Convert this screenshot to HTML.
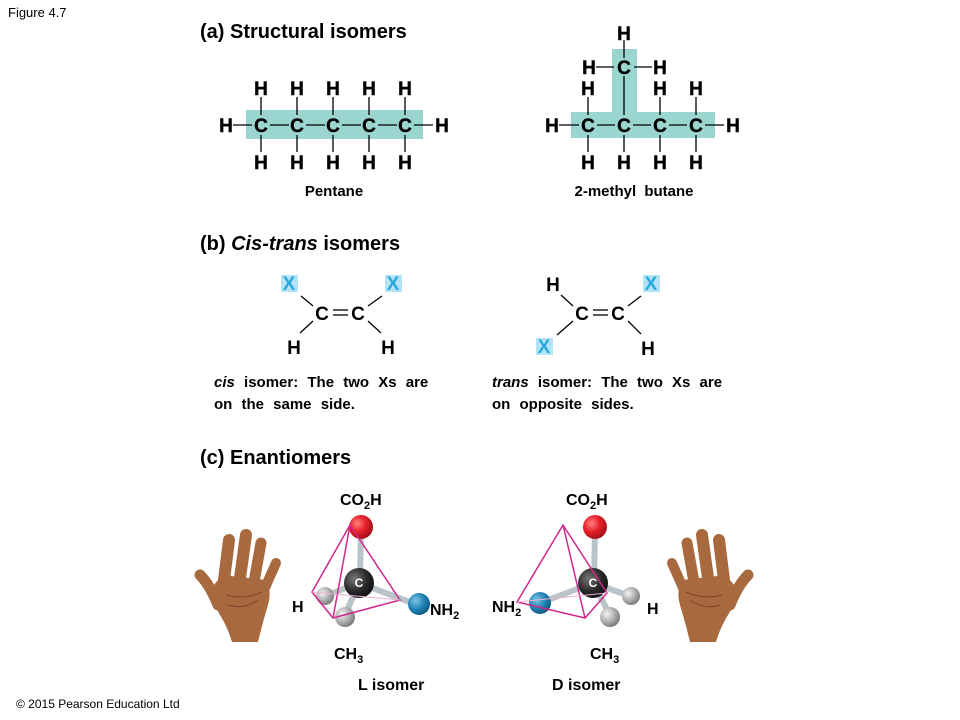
<!DOCTYPE html>
<html><head><style>
html,body{margin:0;padding:0;background:#fff;}
svg{display:block;}
text{font-family:"Liberation Sans",Arial,sans-serif;}
.b{font-weight:bold;}
</style></head><body>
<svg width="960" height="720" viewBox="0 0 960 720" xmlns="http://www.w3.org/2000/svg">
<text x="8" y="17" font-size="13">Figure 4.7</text>
<text x="16" y="708" font-size="12">© 2015 Pearson Education Ltd</text>

<!-- (a) -->
<text x="200" y="38" font-size="20" class="b">(a) Structural isomers</text>
<rect x="246" y="110" width="177" height="29" fill="#9ad5d0"/>
<g stroke="#000" stroke-width="1.3">
<line x1="233" y1="125" x2="252" y2="125"/>
<line x1="270" y1="125" x2="289" y2="125"/>
<line x1="306" y1="125" x2="325" y2="125"/>
<line x1="342" y1="125" x2="361" y2="125"/>
<line x1="378" y1="125" x2="397" y2="125"/>
<line x1="414" y1="125" x2="433" y2="125"/>
<line x1="261" y1="97" x2="261" y2="115"/><line x1="297" y1="97" x2="297" y2="115"/><line x1="333" y1="97" x2="333" y2="115"/><line x1="369" y1="97" x2="369" y2="115"/><line x1="405" y1="97" x2="405" y2="115"/>
<line x1="261" y1="135" x2="261" y2="152"/><line x1="297" y1="135" x2="297" y2="152"/><line x1="333" y1="135" x2="333" y2="152"/><line x1="369" y1="135" x2="369" y2="152"/><line x1="405" y1="135" x2="405" y2="152"/>
</g>
<g font-size="19" class="b" text-anchor="middle" stroke="#000" stroke-width="0.4">
<text x="226" y="132">H</text><text x="442" y="132">H</text>
<text x="261" y="132">C</text><text x="297" y="132">C</text><text x="333" y="132">C</text><text x="369" y="132">C</text><text x="405" y="132">C</text>
<text x="261" y="95">H</text><text x="297" y="95">H</text><text x="333" y="95">H</text><text x="369" y="95">H</text><text x="405" y="95">H</text>
<text x="261" y="169">H</text><text x="297" y="169">H</text><text x="333" y="169">H</text><text x="369" y="169">H</text><text x="405" y="169">H</text>
</g>
<text x="334" y="196" font-size="15" class="b" text-anchor="middle">Pentane</text>

<rect x="571" y="112" width="144" height="26" fill="#9ad5d0"/>
<rect x="612" y="49" width="25" height="65" fill="#9ad5d0"/>
<g stroke="#000" stroke-width="1.3">
<line x1="559" y1="125" x2="579" y2="125"/>
<line x1="597" y1="125" x2="615" y2="125"/>
<line x1="633" y1="125" x2="651" y2="125"/>
<line x1="669" y1="125" x2="687" y2="125"/>
<line x1="705" y1="125" x2="724" y2="125"/>
<line x1="596" y1="67" x2="614" y2="67"/><line x1="634" y1="67" x2="652" y2="67"/>
<line x1="624" y1="40" x2="624" y2="58"/><line x1="624" y1="76" x2="624" y2="115"/>
<line x1="588" y1="97" x2="588" y2="115"/><line x1="660" y1="97" x2="660" y2="115"/><line x1="696" y1="97" x2="696" y2="115"/>
<line x1="588" y1="135" x2="588" y2="152"/><line x1="624" y1="135" x2="624" y2="152"/><line x1="660" y1="135" x2="660" y2="152"/><line x1="696" y1="135" x2="696" y2="152"/>
</g>
<g font-size="19" class="b" text-anchor="middle" stroke="#000" stroke-width="0.4">
<text x="552" y="132">H</text><text x="733" y="132">H</text>
<text x="588" y="132">C</text><text x="624" y="132">C</text><text x="660" y="132">C</text><text x="696" y="132">C</text>
<text x="624" y="74">C</text><text x="589" y="74">H</text><text x="660" y="74">H</text><text x="624" y="40">H</text>
<text x="588" y="95">H</text><text x="660" y="95">H</text><text x="696" y="95">H</text>
<text x="588" y="169">H</text><text x="624" y="169">H</text><text x="660" y="169">H</text><text x="696" y="169">H</text>
</g>
<text x="634" y="196" font-size="15" class="b" text-anchor="middle" word-spacing="4">2-methyl butane</text>

<!-- (b) -->
<text x="200" y="250" font-size="20" class="b">(b) <tspan font-style="italic">Cis-trans</tspan> isomers</text>
<rect x="281" y="275" width="17" height="17" fill="#b3e3f7"/>
<rect x="385" y="275" width="17" height="17" fill="#b3e3f7"/>
<rect x="643" y="275" width="17" height="17" fill="#b3e3f7"/>
<rect x="536" y="338" width="17" height="17" fill="#b3e3f7"/>
<g stroke="#000" stroke-width="1.3">
<line x1="301" y1="296" x2="313" y2="306"/><line x1="382" y1="296" x2="368" y2="306"/>
<line x1="313" y1="321" x2="300" y2="333"/><line x1="368" y1="321" x2="381" y2="333"/>
<line x1="333" y1="310" x2="348" y2="310"/><line x1="333" y1="315" x2="348" y2="315"/>
<line x1="561" y1="295" x2="573" y2="306"/><line x1="641" y1="296" x2="628" y2="306"/>
<line x1="573" y1="321" x2="557" y2="335"/><line x1="628" y1="321" x2="641" y2="334"/>
<line x1="593" y1="310" x2="608" y2="310"/><line x1="593" y1="315" x2="608" y2="315"/>
</g>
<g font-size="19" class="b" text-anchor="middle">
<text x="289" y="290" fill="#29a8e0">X</text><text x="393" y="290" fill="#29a8e0">X</text>
<text x="322" y="320">C</text><text x="358" y="320">C</text>
<text x="294" y="354">H</text><text x="388" y="354">H</text>
<text x="553" y="291">H</text><text x="651" y="290" fill="#29a8e0">X</text>
<text x="582" y="320">C</text><text x="618" y="320">C</text>
<text x="544" y="353" fill="#29a8e0">X</text><text x="648" y="355">H</text>
</g>
<g font-size="15" class="b" word-spacing="5">
<text x="214" y="387"><tspan font-style="italic">cis</tspan> isomer: The two Xs are</text>
<text x="214" y="409">on the same side.</text>
<text x="492" y="387"><tspan font-style="italic">trans</tspan> isomer: The two Xs are</text>
<text x="492" y="409">on opposite sides.</text>
</g>

<!-- (c) -->
<text x="200" y="464" font-size="20" class="b">(c) Enantiomers</text>
<defs>
<radialGradient id="gr" cx="0.35" cy="0.35" r="0.7"><stop offset="0" stop-color="#ff8080"/><stop offset="0.5" stop-color="#e8202a"/><stop offset="1" stop-color="#a0101a"/></radialGradient>
<radialGradient id="gk" cx="0.35" cy="0.35" r="0.7"><stop offset="0" stop-color="#777"/><stop offset="0.6" stop-color="#2a2a2a"/><stop offset="1" stop-color="#111"/></radialGradient>
<radialGradient id="gb" cx="0.35" cy="0.35" r="0.7"><stop offset="0" stop-color="#7cc6e6"/><stop offset="0.6" stop-color="#1d7fb0"/><stop offset="1" stop-color="#0d5a80"/></radialGradient>
<radialGradient id="gg" cx="0.35" cy="0.35" r="0.7"><stop offset="0" stop-color="#f4f4f4"/><stop offset="0.6" stop-color="#aaa"/><stop offset="1" stop-color="#777"/></radialGradient>
<g id="hand">
<g stroke="#a8693f" stroke-linecap="round" fill="none">
<line x1="224" y1="580" x2="229" y2="540" stroke-width="12"/>
<line x1="240" y1="578" x2="246" y2="535" stroke-width="12"/>
<line x1="254" y1="582" x2="261" y2="543" stroke-width="11"/>
<line x1="264" y1="590" x2="276" y2="563" stroke-width="10"/>
<path d="M218 605 Q210 585 200 575" stroke-width="11"/>
</g>
<path d="M214 585 Q210 600 220 615 Q228 628 232 642 L258 642 Q262 625 268 605 Q272 590 266 580 L222 575 Z" fill="#a8693f"/>
<path d="M226 595 Q245 600 262 592 M228 605 Q245 610 258 600" stroke="#7a4828" stroke-width="1" fill="none"/>
</g>
</defs>
<use href="#hand"/>
<use href="#hand" transform="translate(948,0) scale(-1,1)"/>

<!-- L molecule -->
<g stroke="#b8c4c8" stroke-width="6" stroke-linecap="round">
<line x1="361" y1="530" x2="360" y2="580"/><line x1="359" y1="583" x2="325" y2="596"/><line x1="359" y1="583" x2="345" y2="615"/><line x1="359" y1="583" x2="415" y2="604"/>
</g>
<circle cx="325" cy="596" r="9" fill="url(#gg)"/>
<circle cx="359" cy="583" r="15" fill="url(#gk)"/>
<circle cx="345" cy="617" r="10" fill="url(#gg)"/>
<circle cx="419" cy="604" r="11" fill="url(#gb)"/>
<circle cx="361" cy="527" r="12" fill="url(#gr)"/>
<g stroke="#d0288a" stroke-width="1.5" fill="none">
<polygon points="350,525 312,592 333,618 400,600"/><line x1="350" y1="525" x2="333" y2="618"/>
</g>
<line x1="312" y1="592" x2="400" y2="600" stroke="#e8b0d0" stroke-width="1"/>
<text x="359" y="587" font-size="12" class="b" fill="#fff" text-anchor="middle">C</text>

<!-- D molecule -->
<g stroke="#b8c4c8" stroke-width="6" stroke-linecap="round">
<line x1="595" y1="530" x2="594" y2="580"/><line x1="593" y1="583" x2="630" y2="596"/><line x1="593" y1="583" x2="610" y2="615"/><line x1="593" y1="583" x2="540" y2="603"/>
</g>
<circle cx="631" cy="596" r="9" fill="url(#gg)"/>
<circle cx="593" cy="583" r="15" fill="url(#gk)"/>
<circle cx="610" cy="617" r="10" fill="url(#gg)"/>
<circle cx="540" cy="603" r="11" fill="url(#gb)"/>
<circle cx="595" cy="527" r="12" fill="url(#gr)"/>
<g stroke="#d0288a" stroke-width="1.5" fill="none">
<polygon points="563,525 517,602 585,618 607,593"/><line x1="563" y1="525" x2="585" y2="618"/>
</g>
<line x1="517" y1="602" x2="607" y2="593" stroke="#e8b0d0" stroke-width="1"/>
<text x="593" y="587" font-size="12" class="b" fill="#fff" text-anchor="middle">C</text>

<g font-size="16" class="b">
<text x="340" y="505">CO<tspan font-size="11" dy="4">2</tspan><tspan dy="-4">H</tspan></text>
<text x="566" y="505">CO<tspan font-size="11" dy="4">2</tspan><tspan dy="-4">H</tspan></text>
<text x="292" y="612">H</text>
<text x="430" y="615">NH<tspan font-size="11" dy="4">2</tspan></text>
<text x="492" y="612">NH<tspan font-size="11" dy="4">2</tspan></text>
<text x="647" y="614">H</text>
<text x="334" y="659">CH<tspan font-size="11" dy="4">3</tspan></text>
<text x="590" y="659">CH<tspan font-size="11" dy="4">3</tspan></text>
<text x="358" y="690">L isomer</text>
<text x="552" y="690">D isomer</text>
</g>
</svg>
</body></html>
